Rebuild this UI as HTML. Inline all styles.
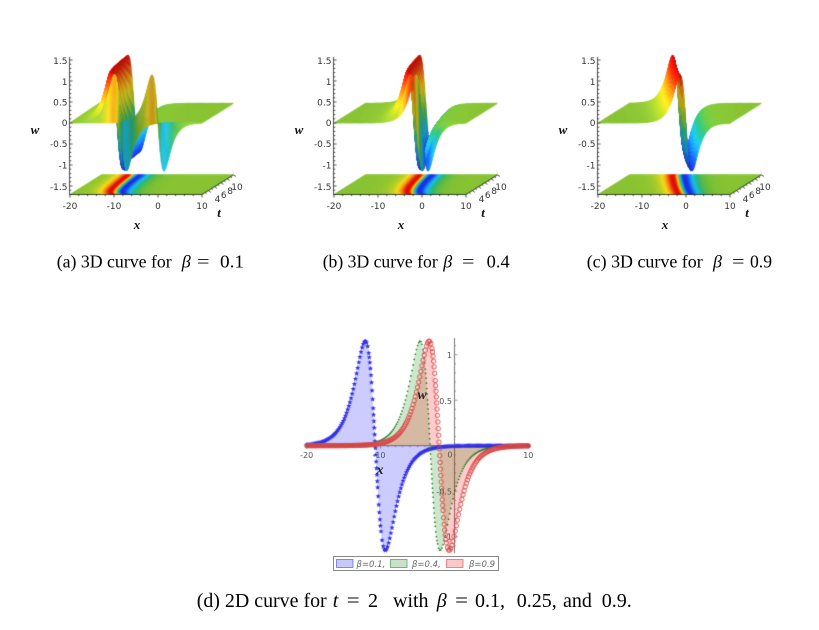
<!DOCTYPE html>
<html><head><meta charset="utf-8">
<style>
html,body{margin:0;padding:0;background:#fff;}
#wrap{position:relative;width:819px;height:630px;overflow:hidden;background:#fff;}
canvas,svg{position:absolute;left:0;top:0;}
</style></head><body>
<div id="wrap">
<canvas id="cv" width="819" height="630"></canvas>
<svg width="819" height="630" viewBox="0 0 819 630" xmlns="http://www.w3.org/2000/svg">
<g id="lab3d">
<g transform="translate(69.5,0)">
 <g font-family="DejaVu Sans, sans-serif" font-size="9" fill="#333" text-anchor="end">
  <text x="-2" y="64">1.5</text><text x="-2" y="85">1</text><text x="-2" y="105.5">0.5</text><text x="-2" y="126">0</text><text x="-2" y="147">-0.5</text><text x="-2" y="168.5">-1</text><text x="-2" y="190">-1.5</text>
 </g>
 <g font-family="DejaVu Sans, sans-serif" font-size="9" fill="#333" text-anchor="middle">
  <text x="0.5" y="209">-20</text><text x="44.5" y="209">-10</text><text x="88.5" y="209">0</text><text x="132.5" y="209">10</text>
  <text x="148" y="202">4</text><text x="154.3" y="198">6</text><text x="160.6" y="194">8</text><text x="167.5" y="190">10</text>
 </g>
 <g font-family="Liberation Serif, serif" font-size="13" font-weight="bold" font-style="italic" fill="#111" text-anchor="middle">
  <text x="-34.5" y="134">w</text><text x="67.5" y="229">x</text><text x="149.5" y="217">t</text>
 </g>
</g>
<g transform="translate(333.5,0)">
 <g font-family="DejaVu Sans, sans-serif" font-size="9" fill="#333" text-anchor="end">
  <text x="-2" y="64">1.5</text><text x="-2" y="85">1</text><text x="-2" y="105.5">0.5</text><text x="-2" y="126">0</text><text x="-2" y="147">-0.5</text><text x="-2" y="168.5">-1</text><text x="-2" y="190">-1.5</text>
 </g>
 <g font-family="DejaVu Sans, sans-serif" font-size="9" fill="#333" text-anchor="middle">
  <text x="0.5" y="209">-20</text><text x="44.5" y="209">-10</text><text x="88.5" y="209">0</text><text x="132.5" y="209">10</text>
  <text x="148" y="202">4</text><text x="154.3" y="198">6</text><text x="160.6" y="194">8</text><text x="167.5" y="190">10</text>
 </g>
 <g font-family="Liberation Serif, serif" font-size="13" font-weight="bold" font-style="italic" fill="#111" text-anchor="middle">
  <text x="-34.5" y="134">w</text><text x="67.5" y="229">x</text><text x="149.5" y="217">t</text>
 </g>
</g>
<g transform="translate(597.5,0)">
 <g font-family="DejaVu Sans, sans-serif" font-size="9" fill="#333" text-anchor="end">
  <text x="-2" y="64">1.5</text><text x="-2" y="85">1</text><text x="-2" y="105.5">0.5</text><text x="-2" y="126">0</text><text x="-2" y="147">-0.5</text><text x="-2" y="168.5">-1</text><text x="-2" y="190">-1.5</text>
 </g>
 <g font-family="DejaVu Sans, sans-serif" font-size="9" fill="#333" text-anchor="middle">
  <text x="0.5" y="209">-20</text><text x="44.5" y="209">-10</text><text x="88.5" y="209">0</text><text x="132.5" y="209">10</text>
  <text x="148" y="202">4</text><text x="154.3" y="198">6</text><text x="160.6" y="194">8</text><text x="167.5" y="190">10</text>
 </g>
 <g font-family="Liberation Serif, serif" font-size="13" font-weight="bold" font-style="italic" fill="#111" text-anchor="middle">
  <text x="-34.5" y="134">w</text><text x="67.5" y="229">x</text><text x="149.5" y="217">t</text>
 </g>
</g>
</g>

<g font-family="Liberation Serif, serif" font-size="18" fill="#000">
 <text x="56.7" y="267.5" textLength="115" lengthAdjust="spacingAndGlyphs">(a) 3D curve for</text>
 <text x="181.7" y="267.5" font-style="italic">β</text>
 <text x="197" y="267.5" textLength="12.5" lengthAdjust="spacingAndGlyphs">=</text>
 <text x="220" y="267.5" textLength="24" lengthAdjust="spacingAndGlyphs">0.1</text>

 <text x="322.7" y="267.5" textLength="115" lengthAdjust="spacingAndGlyphs">(b) 3D curve for</text>
 <text x="443.3" y="267.5" font-style="italic">β</text>
 <text x="462" y="267.5" textLength="12.5" lengthAdjust="spacingAndGlyphs">=</text>
 <text x="486.7" y="267.5" textLength="23" lengthAdjust="spacingAndGlyphs">0.4</text>

 <text x="586.7" y="267.5" textLength="116" lengthAdjust="spacingAndGlyphs">(c) 3D curve for</text>
 <text x="713" y="267.5" font-style="italic">β</text>
 <text x="732" y="267.5" textLength="12.5" lengthAdjust="spacingAndGlyphs">=</text>
 <text x="750" y="267.5" textLength="22" lengthAdjust="spacingAndGlyphs">0.9</text>
</g>

<g font-family="DejaVu Sans, sans-serif" font-size="8" fill="#555">
 <text x="306.7" y="458" text-anchor="middle">-20</text>
 <text x="379" y="458" text-anchor="middle">-10</text>
 <text x="452.5" y="457.5" text-anchor="end">0</text>
 <text x="528.3" y="458" text-anchor="middle">10</text>
 <text x="452" y="358" text-anchor="end">1</text>
 <text x="452" y="404" text-anchor="end">0.5</text>
 <text x="452" y="494.5" text-anchor="end">-0.5</text>
 <text x="452" y="539.5" text-anchor="end">-1</text>
</g>
<g font-family="Liberation Serif, serif" font-size="14" font-weight="bold" font-style="italic" fill="#222" text-anchor="middle">
 <text x="380" y="474">x</text>
 <text x="422" y="399">w</text>
</g>

<rect x="333.5" y="556.5" width="165" height="14" fill="#fff" stroke="#8a8a8a" stroke-width="1"/>
<rect x="336.5" y="559.5" width="16.5" height="8" fill="#c8c8fa" stroke="#7070e0" stroke-width="0.8"/>
<rect x="390.5" y="559.5" width="16.5" height="8" fill="#c8e2c8" stroke="#60a060" stroke-width="0.8"/>
<rect x="446.5" y="559.5" width="16.5" height="8" fill="#fac8c8" stroke="#e07070" stroke-width="0.8"/>
<g font-family="DejaVu Sans, sans-serif" font-size="8.5" font-style="italic" fill="#666">
 <text x="356.5" y="567">β=0.1,</text>
 <text x="412" y="567">β=0.4,</text>
 <text x="469" y="567">β=0.9</text>
</g>

<g font-family="Liberation Serif, serif" font-size="20" fill="#000">
 <text x="196.7" y="607" textLength="130" lengthAdjust="spacingAndGlyphs">(d) 2D curve for</text>
 <text x="332.7" y="607" font-style="italic">t</text>
 <text x="346.7" y="607" textLength="13" lengthAdjust="spacingAndGlyphs">=</text>
 <text x="368" y="607">2</text>
 <text x="393" y="607">with</text>
 <text x="436.7" y="607" font-style="italic">β</text>
 <text x="455" y="607" textLength="13" lengthAdjust="spacingAndGlyphs">=</text>
 <text x="475" y="607">0.1,</text>
 <text x="516.7" y="607">0.25,</text>
 <text x="563" y="607">and</text>
 <text x="601.7" y="607">0.9.</text>
</g>
</svg>
</div>
<script>
(function(){
const cv=document.getElementById('cv');
const g=cv.getContext('2d');
g.fillStyle='#fff';g.fillRect(0,0,819,630);
function sech(u){return 2/(Math.exp(u)+Math.exp(-u));}
function W(x,t,be){const T=t<=0?0:Math.pow(t,be)/be;const u=0.65*(x+T);return -2.3*sech(u)*Math.tanh(u);}
const ST=[[-1.2,[40,40,215]],[-1.0,[25,75,240]],[-0.8,[25,140,245]],[-0.55,[30,195,225]],[-0.3,[45,185,130]],[-0.1,[105,190,65]],[0,[140,198,55]],[0.15,[180,208,42]],[0.4,[245,222,30]],[0.7,[248,145,20]],[1.0,[235,45,15]],[1.2,[220,5,10]]];
function cm(w){
 if(w<=ST[0][0])return ST[0][1].slice();
 for(let i=1;i<ST.length;i++){if(w<=ST[i][0]){const a=ST[i-1],b=ST[i];const f=(w-a[0])/(b[0]-a[0]);return [0,1,2].map(k=>a[1][k]+(b[1][k]-a[1][k])*f);}}
 return ST[ST.length-1][1].slice();
}
function quad(p,col){
 g.beginPath();g.moveTo(p[0],p[1]);g.lineTo(p[2],p[3]);g.lineTo(p[4],p[5]);g.lineTo(p[6],p[7]);g.closePath();
 const s='rgb('+Math.round(col[0])+','+Math.round(col[1])+','+Math.round(col[2])+')';
 g.fillStyle=s;g.strokeStyle=s;g.fill();g.stroke();
}
function line(a,b,c,d){g.beginPath();g.moveTo(a,b);g.lineTo(c,d);g.stroke();}
let L=[-0.5,-0.6,0.6];const Ln=Math.hypot(L[0],L[1],L[2]);L=L.map(v=>v/Ln);
const base=0.72+0.28*L[2];
function plot3d(OX,be){
 const ax=4.4,tx=3.15,ty=1.97,sw=42,Yu=123,Yb=194.5,nx=120,nt=40,dx=30/nx,dt=10/nt;
 const SX=(x,t)=>OX+0.5+(x+20)*ax+t*tx;
 g.lineWidth=0.6;
 for(let j=0;j<nt;j++)for(let i=0;i<nx;i++){
  const x=-20+i*dx,t=j*dt;
  const col=cm(W(x+dx/2,t+dt/2,be));
  quad([SX(x,t),Yb-t*ty,SX(x+dx,t),Yb-t*ty,SX(x+dx,t+dt),Yb-(t+dt)*ty,SX(x,t+dt),Yb-(t+dt)*ty],col);
 }
 const G=[];for(let j=0;j<=nt;j++){const r=[];for(let i=0;i<=nx;i++)r.push(W(-20+i*dx,j*dt,be));G.push(r);}
 const Q=[];for(let j=0;j<nt;j++)for(let i=0;i<nx;i++)Q.push([(j+0.5)*dt-0.705*(-20+(i+0.5)*dx),i,j]);
 Q.sort((p,q)=>q[0]-p[0]);
 const P=(xx,tt,w)=>[SX(xx,tt),Yu-tt*ty-w*sw];
 for(const q of Q){
  const i=q[1],j=q[2];
  const w00=G[j][i],w10=G[j][i+1],w01=G[j+1][i],w11=G[j+1][i+1];
  const x=-20+i*dx,t=j*dt;
  const a=P(x,t,w00),b=P(x+dx,t,w10),c=P(x+dx,t+dt,w11),d=P(x,t+dt,w01);
  const gx=((w10+w11)-(w00+w01))/(2*dx)*sw/ax, gt=((w01+w11)-(w00+w10))/(2*dt)*sw/8;
  const nn=Math.hypot(gx,gt,1);
  const dd=(-gx*L[0]-gt*L[1]+L[2])/nn;
  const br=Math.min(1.1,(0.72+0.28*Math.max(dd,0))/base);
  const col=cm((w00+w10+w01+w11)/4).map(v=>Math.min(255,v*br));
  quad([a[0],a[1],b[0],b[1],c[0],c[1],d[0],d[1]],col);
 }
 g.strokeStyle='#222';g.lineWidth=0.8;
 line(OX,57,OX,Yb);
 for(let k=-17;k<=15;k++){const y=Yu-k*0.1*sw;if(y>Yb)continue;const major=(k%5===0);line(OX,y,OX+(major?3:1.8),y);}
 line(SX(-20,0),Yb,SX(10,0),Yb);
 for(let x=-20;x<=10;x+=2){const major=(x%10===0);line(SX(x,0),Yb,SX(x,0),Yb+(major?3:1.6));}
 line(SX(10,0),Yb,SX(10,10),Yb-10*ty);
 for(let t=1;t<=10;t++){const X=SX(10,t),Y=Yb-t*ty;const major=(t%2===0);line(X,Y,X+(major?2.5:1.5),Y+(major?1.8:1));}
}
plot3d(69.5,0.1);
plot3d(333.5,0.4);
plot3d(597.5,0.9);

const X0=454.5,SX2=7.39,Y0=445.7,SY2=91;
const px=x=>X0+x*SX2, py=w=>Y0-w*SY2;
g.strokeStyle='#777';g.lineWidth=1;
line(px(-20),Y0,px(10),Y0);
line(X0,338,X0,553);
g.lineWidth=0.7;
for(let x=-20;x<=10;x++){const major=(x%10===0);line(px(x),Y0,px(x),Y0+(major?3:1.5));}
for(let k=-11;k<=11;k++){const major=(k%5===0);const y=py(k*0.1);line(X0,y,X0+(major?3:1.5),y);}
const curves=[[0.1,'rgba(0,0,255,0.2)'],[0.4,'rgba(0,140,0,0.2)'],[0.9,'rgba(255,0,0,0.2)']];
for(const c2 of curves){
 g.fillStyle=c2[1];g.beginPath();g.moveTo(px(-20),Y0);
 for(let x=-20;x<=10.0001;x+=0.03)g.lineTo(px(x),py(W(x,2,c2[0])));
 g.lineTo(px(10),Y0);g.closePath();g.fill();
}
function samples(be,step,maxd){
 const pts=[];let prev=null;const n=Math.round(30/step);
 for(let i=0;i<=n;i++){
  const x=-20+i*step;const p=[px(x),py(W(x,2,be)),x];
  if(prev){const d=Math.hypot(p[0]-prev[0],p[1]-prev[1]);
   if(d>maxd){const m=Math.ceil(d/maxd);for(let k=1;k<m;k++){const xx=prev[2]+(x-prev[2])*k/m;pts.push([px(xx),py(W(xx,2,be)),xx]);}}}
  pts.push(p);prev=p;
 }
 return pts;
}
function star(x,y,r){g.beginPath();for(let k=0;k<10;k++){const a=-Math.PI/2+k*Math.PI/5;const rr=(k%2)?r*0.45:r;g.lineTo(x+rr*Math.cos(a),y+rr*Math.sin(a));}g.closePath();g.fill();}
g.fillStyle='rgb(50,50,230)';
for(const p of samples(0.1,0.15,9))star(p[0],p[1],2.7);
g.fillStyle='rgb(30,125,30)';
for(const p of samples(0.4,0.15,6)){g.beginPath();g.arc(p[0],p[1],0.85,0,Math.PI*2);g.fill();}
g.strokeStyle='rgb(218,70,70)';g.lineWidth=0.9;
for(const p of samples(0.9,0.15,7)){g.beginPath();g.arc(p[0],p[1],2.2,0,Math.PI*2);g.stroke();}
})();
</script>
</body></html>
